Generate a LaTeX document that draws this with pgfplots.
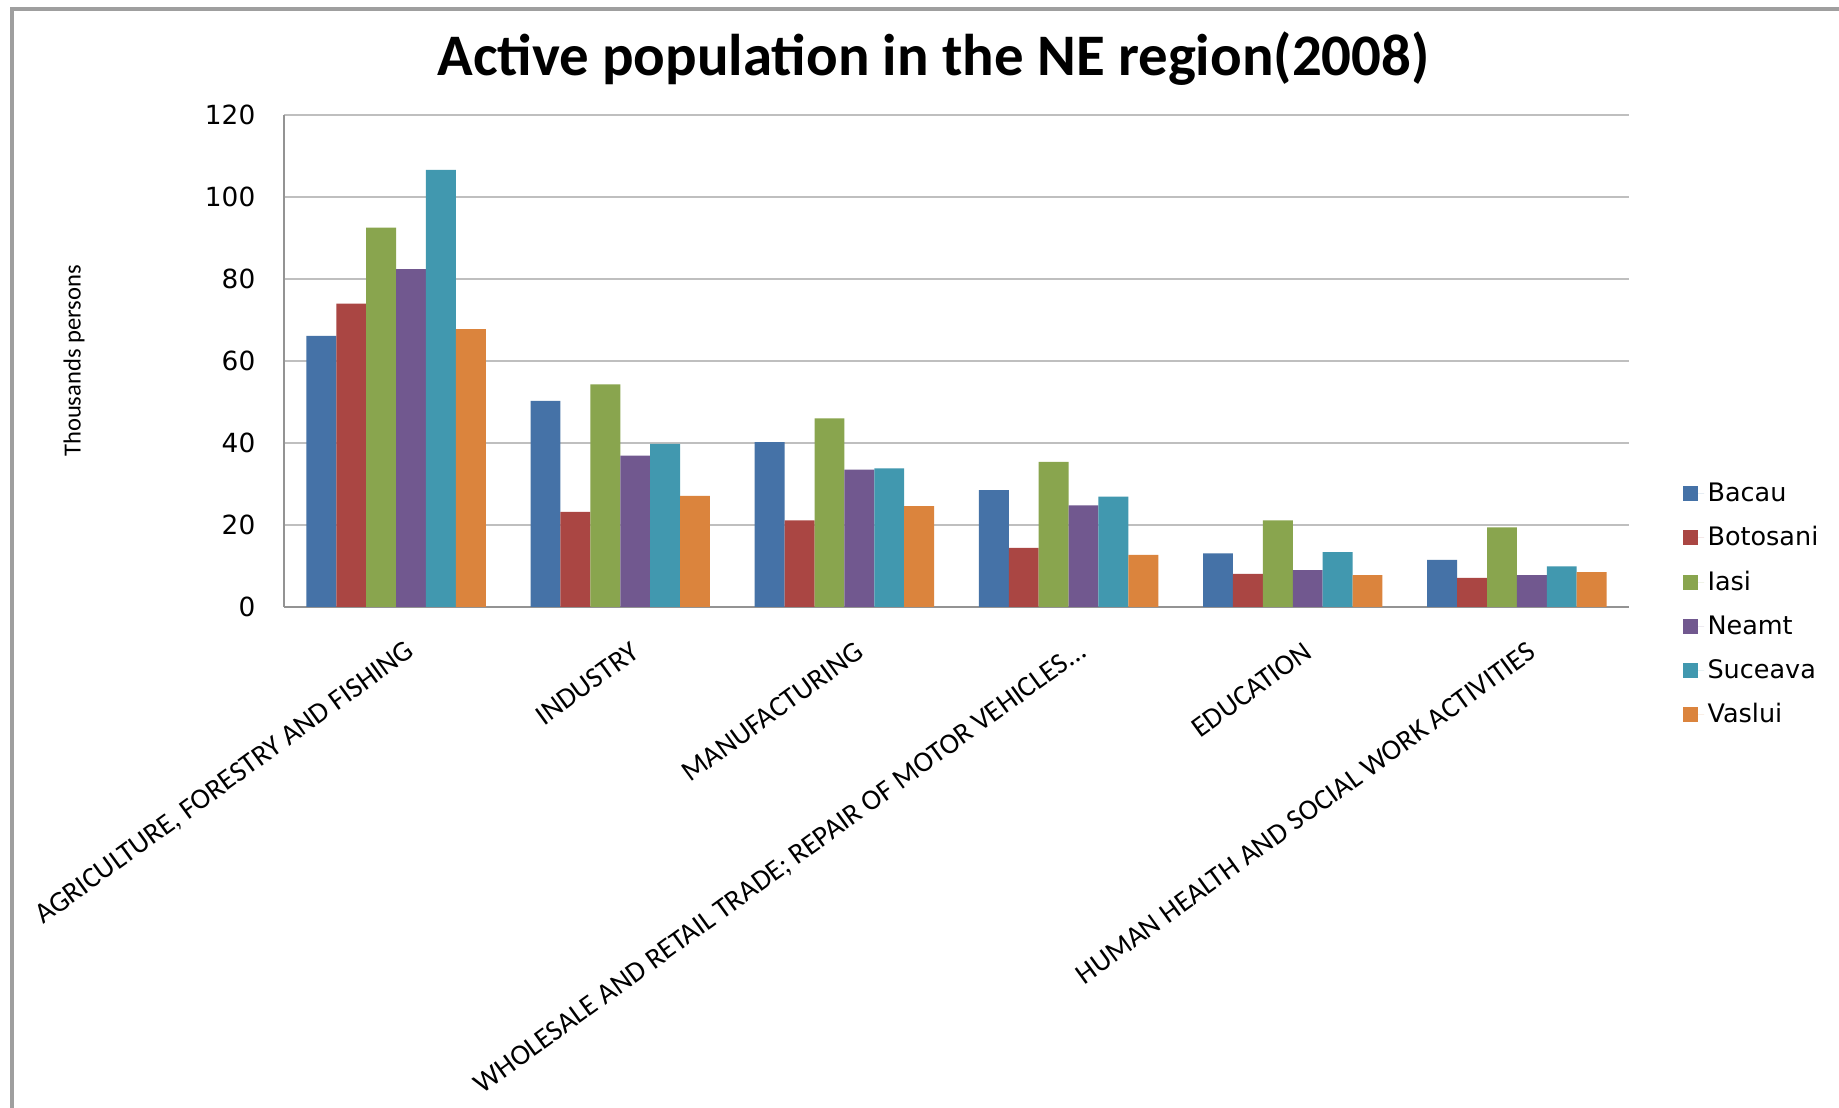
\documentclass[border=0pt]{standalone}
\usepackage{pgfplots}
\pgfplotsset{compat=1.18}
\usepackage{fontspec}
\setmainfont{DejaVu Sans}
\newfontfamily\calibri{Carlito}
\newcommand{\threedots}{...}

\definecolor{cBacau}{HTML}{4572A7}
\definecolor{cBotosani}{HTML}{AA4643}
\definecolor{cIasi}{HTML}{89A54E}
\definecolor{cNeamt}{HTML}{71588F}
\definecolor{cSuceava}{HTML}{4198AF}
\definecolor{cVaslui}{HTML}{DB843D}

% x: 0 agriculture, 1 industry, 2 manufacturing, 3 wholesale, 4 education, 5 health
\pgfplotstableread{
x  bacau botosani iasi  neamt suceava vaslui
0  66.1  74.0     92.5  82.4  106.6   67.8
1  50.3  23.2     54.3  36.9  39.8    27.1
2  40.2  21.1     46.0  33.5  33.8    24.6
3  28.5  14.4     35.4  24.8  26.9    12.7
4  13.1  8.1      21.1  9.0   13.4    7.8
5  11.5  7.1      19.4  7.8   9.9     8.5
}\datatable

\begin{document}
\begin{tikzpicture}
\useasboundingbox (0,0) rectangle (36.78cm,22.14cm);
\fill[white] (0,0) rectangle (36.78cm,22.14cm);
\draw[gray!75, line width=2pt] (0.24cm,-1cm) -- (0.24cm,21.96cm) -- (38cm,21.96cm);
\node[font=\calibri\bfseries\fontsize{33.5}{36}\selectfont] at (18.67cm,20.97cm) {Active population in the NE region(2008)};
\begin{axis}[
  at={(5.68cm,10cm)}, anchor=south west,
  scale only axis, width=26.9cm, height=9.84cm,
  ybar=0pt, bar width=0.598cm,
  xmin=-0.5, xmax=5.5, ymin=0, ymax=120,
  xtick={0,...,5},
  xticklabels={{AGRICULTURE, FORESTRY AND FISHING}, INDUSTRY, MANUFACTURING,
    {WHOLESALE AND RETAIL TRADE; REPAIR OF MOTOR VEHICLES\threedots}, EDUCATION,
    {HUMAN HEALTH AND SOCIAL WORK ACTIVITIES}},
  xticklabel style={font=\calibri\fontsize{16.5}{17}\selectfont, rotate=36, anchor=east, xshift=-0.12cm, yshift=-0.85cm},
  ytick={0,20,...,120},
  /pgf/number format/assume math mode=true,
  yticklabel style={font=\fontsize{15}{16}\selectfont, xshift=-0.45cm},
  axis x line*=bottom, axis y line*=left,
  axis line style={gray!85, line width=0.9pt},
  major tick length=0pt,
  ymajorgrids, grid style={gray!50, line width=0.8pt},
  ylabel={Thousands persons},
  ylabel style={font=\calibri\fontsize{14}{15}\selectfont, at={(axis description cs:-0.156,0.5)}, anchor=center, rotate=0},
  legend style={draw=none, fill=none, at={(1.036,0.006)}, anchor=west,
    font=\fontsize{14.5}{15}\selectfont, row sep=0.31cm},
  legend cell align=left,
  legend image code/.code={\path[#1,draw=none] (0cm,-0.15cm) rectangle (0.3cm,0.15cm); \path (0cm,0cm) -- (0.42cm,0cm);},
]
\addplot[fill=cBacau, draw=none] table[x=x, y=bacau] {\datatable};
\addplot[fill=cBotosani, draw=none] table[x=x, y=botosani] {\datatable};
\addplot[fill=cIasi, draw=none] table[x=x, y=iasi] {\datatable};
\addplot[fill=cNeamt, draw=none] table[x=x, y=neamt] {\datatable};
\addplot[fill=cSuceava, draw=none] table[x=x, y=suceava] {\datatable};
\addplot[fill=cVaslui, draw=none] table[x=x, y=vaslui] {\datatable};
\legend{Bacau, Botosani, Iasi, Neamt, Suceava, Vaslui}
\end{axis}
\end{tikzpicture}
\end{document}
